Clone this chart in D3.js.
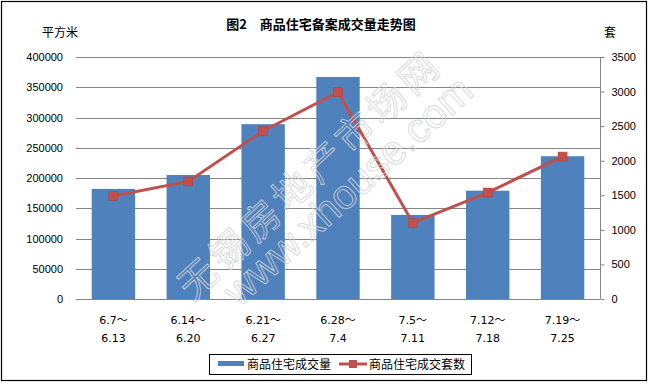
<!DOCTYPE html>
<html>
<head>
<meta charset="utf-8">
<script src="https://cdn.jsdelivr.net/npm/d3@7"></script>
<style>
  body { margin: 0; background: #fff; }
  svg { display: block; font-family: "DejaVu Sans", "Noto Sans CJK SC", sans-serif; }
  .axis .domain { display: none; }
  .axis text { font-size: 11px; fill: #000; }
  .grid line { stroke: #868686; stroke-width: 1; }
</style>
</head>
<body>
<script>
// categories (two-line week labels) and series
var weekStart = ["6.7～", "6.14～", "6.21～", "6.28～", "7.5～", "7.12～", "7.19～"];
var weekEnd = ["6.13", "6.20", "6.27", "7.4", "7.11", "7.18", "7.25"];
var area = [182000, 205000, 289000, 367000, 139000, 179000, 236000];
var units = [1490, 1700, 2430, 2990, 1100, 1540, 2060];
var leftTicks = [0, 50000, 100000, 150000, 200000, 250000, 300000, 350000, 400000];
var rightTicks = [0, 500, 1000, 1500, 2000, 2500, 3000, 3500];

width = 649;
height = 384;
margin = { top: 57, right: 49, bottom: 85, left: 76 };
plotBottom = height - margin.bottom;
plotRight = width - margin.right;

svg = d3.select("body")
  .append("svg")
    .attr("width", width)
    .attr("height", height);

svg.append("rect")
  .attr("x", 1.5)
  .attr("y", 1.5)
  .attr("width", 645)
  .attr("height", 379)
  .attr("fill", "#fff")
  .attr("stroke", "#000")
  .attr("stroke-width", 1.2);

x = d3.scaleBand()
  .domain(d3.range(weekStart.length))
  .range([margin.left, plotRight])
  .paddingInner(0.42)
  .paddingOuter(0.21);
yLeft = d3.scaleLinear().domain([0, 400000]).range([plotBottom, margin.top]);
yRight = d3.scaleLinear().domain([0, 3500]).range([plotBottom, margin.top]);

// gridlines
svg.append("g")
  .classed("grid", true)
  .selectAll("line")
    .data(leftTicks)
  .enter().append("line")
    .attr("x1", margin.left)
    .attr("x2", plotRight)
    .attr("y1", function(d) { return Math.round(yLeft(d)) + 0.5; })
    .attr("y2", function(d) { return Math.round(yLeft(d)) + 0.5; });

// left axis: labels only
leftAxis = svg.append("g")
  .classed("axis", true)
  .attr("transform", "translate(" + margin.left + ",0)")
  .call(d3.axisLeft(yLeft).tickValues(leftTicks).tickSize(0).tickPadding(13).tickFormat(d3.format("d")));

// right axis with outward ticks
rightAxis = svg.append("g")
  .classed("axis", true)
  .attr("transform", "translate(" + (plotRight + 0.5) + ",0)")
  .call(d3.axisRight(yRight).tickValues(rightTicks).tickSize(4).tickPadding(7).tickFormat(d3.format("d")));
rightAxis.selectAll(".tick line").attr("stroke", "#868686");
svg.append("line")
  .attr("x1", plotRight + 0.5)
  .attr("x2", plotRight + 0.5)
  .attr("y1", margin.top)
  .attr("y2", plotBottom)
  .attr("stroke", "#868686");

// bars
svg.append("g")
  .selectAll("rect")
    .data(area)
  .enter().append("rect")
    .attr("x", function(d, i) { return x(i); })
    .attr("y", function(d) { return yLeft(d); })
    .attr("width", x.bandwidth())
    .attr("height", function(d) { return plotBottom - yLeft(d); })
    .attr("fill", "#4F81BD");

// bottom axis line
svg.append("line")
  .attr("x1", margin.left)
  .attr("x2", plotRight)
  .attr("y1", plotBottom + 0.5)
  .attr("y2", plotBottom + 0.5)
  .attr("stroke", "#868686");

// line series
line = d3.line()
  .x(function(d, i) { return x(i) + x.bandwidth() / 2; })
  .y(function(d) { return yRight(d); });
svg.append("path")
  .attr("d", line(units))
  .attr("fill", "none")
  .attr("stroke", "#C0504D")
  .attr("stroke-width", 3);
svg.append("g")
  .selectAll("rect")
    .data(units)
  .enter().append("rect")
    .attr("x", function(d, i) { return x(i) + x.bandwidth() / 2 - 4.5; })
    .attr("y", function(d) { return yRight(d) - 4.5; })
    .attr("width", 9)
    .attr("height", 9)
    .attr("fill", "#C0504D")
    .attr("stroke", "#B5403D")
    .attr("stroke-width", 0.5);

// watermark
wm = svg.append("g")
  .attr("fill", "none")
  .attr("stroke", "#d4d4d4")
  .attr("stroke-opacity", 0.85)
  .attr("stroke-width", 1);
wm.append("text")
  .attr("transform", "translate(312,177) rotate(-43)")
  .attr("text-anchor", "middle")
  .attr("dominant-baseline", "middle")
  .attr("font-family", "Noto Sans CJK SC")
  .attr("font-size", 38)
  .attr("letter-spacing", 5)
  .text("无锡房地产市场网");
wm.append("text")
  .attr("transform", "translate(350,193) rotate(-42)")
  .attr("text-anchor", "middle")
  .attr("dominant-baseline", "middle")
  .attr("font-family", "Liberation Sans")
  .attr("font-size", 41)
  .text("www.xhouse.com");

// category labels (two lines)
xLabels = svg.append("g")
  .selectAll("text")
    .data(weekStart)
  .enter().append("text")
    .attr("text-anchor", "middle")
    .attr("font-size", 11)
    .attr("fill", "#000");
xLabels.append("tspan")
  .attr("x", function(d, i) { return x(i) + x.bandwidth() / 2; })
  .attr("y", 324)
  .text(function(d) { return d; });
xLabels.append("tspan")
  .attr("x", function(d, i) { return x(i) + x.bandwidth() / 2; })
  .attr("y", 342)
  .text(function(d, i) { return weekEnd[i]; });

// titles
svg.append("text")
  .attr("x", 321)
  .attr("y", 29)
  .attr("text-anchor", "middle")
  .attr("font-family", "Noto Sans CJK SC")
  .attr("font-weight", "bold")
  .attr("font-size", 13)
  .text("图2　商品住宅备案成交量走势图");
svg.append("text")
  .attr("x", 60)
  .attr("y", 37)
  .attr("text-anchor", "middle")
  .attr("font-family", "Noto Sans CJK SC")
  .attr("font-size", 12)
  .text("平方米");
svg.append("text")
  .attr("x", 610)
  .attr("y", 37)
  .attr("text-anchor", "middle")
  .attr("font-family", "Noto Sans CJK SC")
  .attr("font-size", 12)
  .text("套");

// legend
legend = svg.append("g");
legend.append("rect")
  .attr("x", 209.5)
  .attr("y", 354.5)
  .attr("width", 262)
  .attr("height", 20)
  .attr("fill", "#fff")
  .attr("stroke", "#000");
legend.append("rect")
  .attr("x", 218)
  .attr("y", 361)
  .attr("width", 26)
  .attr("height", 5)
  .attr("fill", "#4F81BD");
legend.append("text")
  .attr("x", 247)
  .attr("y", 369)
  .attr("font-family", "Noto Sans CJK SC")
  .attr("font-size", 12)
  .text("商品住宅成交量");
legend.append("line")
  .attr("x1", 339)
  .attr("x2", 367)
  .attr("y1", 364)
  .attr("y2", 364)
  .attr("stroke", "#C0504D")
  .attr("stroke-width", 3);
legend.append("rect")
  .attr("x", 349)
  .attr("y", 360)
  .attr("width", 8)
  .attr("height", 8)
  .attr("fill", "#C0504D");
legend.append("text")
  .attr("x", 369)
  .attr("y", 369)
  .attr("font-family", "Noto Sans CJK SC")
  .attr("font-size", 12)
  .text("商品住宅成交套数");
</script>
</body>
</html>
